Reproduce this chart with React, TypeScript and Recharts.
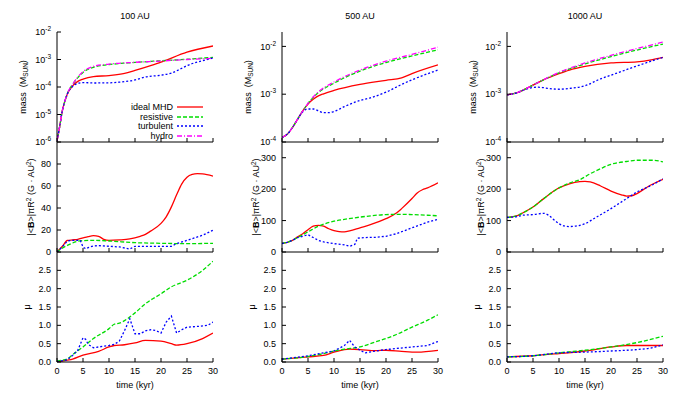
import React from "react";
import { LineChart, Line, XAxis, YAxis } from "recharts";

type Pt = [number, number];

// time (kyr) -> value
const timeTicks = [0, 5, 10, 15, 20, 25, 30];
const columnTitles = ["100 AU", "500 AU", "1000 AU"];
const legendNames = ["ideal MHD", "resistive", "turbulent", "hydro"];

// mass (M_SUN)
const mass100Ideal: Pt[] = [[0, 1.1e-6], [0.5, 3.5e-6], [1, 1.3e-5], [1.5, 3e-5], [2, 5.6e-5], [3, 1.1e-4], [4, 1.6e-4], [5, 1.95e-4], [7, 2.4e-4], [10, 2.6e-4], [13, 3.1e-4], [15, 4e-4], [18, 6e-4], [20, 8e-4], [25, 1.85e-3], [30, 3.1e-3]];
const mass100Resistive: Pt[] = [[0, 1.1e-6], [0.5, 3.5e-6], [1, 1.3e-5], [1.5, 3e-5], [2, 5.8e-5], [3, 1.25e-4], [4, 2.2e-4], [5, 3.4e-4], [7, 5.2e-4], [10, 6.5e-4], [15, 7.8e-4], [20, 9e-4], [25, 1.02e-3], [30, 1.2e-3]];
const mass100Turbulent: Pt[] = [[0, 1.1e-6], [0.5, 3.5e-6], [1, 1.3e-5], [1.5, 3e-5], [2, 5.6e-5], [3, 1.05e-4], [4, 1.35e-4], [5, 1.45e-4], [7, 1.4e-4], [10, 1.42e-4], [12, 1.5e-4], [15, 1.8e-4], [17, 2.3e-4], [20, 2.7e-4], [22, 3.2e-4], [24, 4.8e-4], [25, 6e-4], [28, 9e-4], [30, 1.12e-3]];
const mass100Hydro: Pt[] = [[0, 1.1e-6], [0.5, 3.5e-6], [1, 1.3e-5], [1.5, 3e-5], [2, 5.8e-5], [3, 1.25e-4], [4, 2.3e-4], [5, 3.6e-4], [7, 5.6e-4], [10, 6.8e-4], [15, 7.9e-4], [20, 8.8e-4], [25, 1e-3], [30, 1.1e-3]];

const mass500Ideal: Pt[] = [[0, 1.25e-4], [1, 1.45e-4], [2, 2e-4], [3, 3e-4], [4, 4.5e-4], [5, 6.2e-4], [6, 7.8e-4], [7, 9.2e-4], [8, 1.02e-3], [10, 1.2e-3], [15, 1.6e-3], [20, 1.95e-3], [23, 2.2e-3], [25, 2.7e-3], [30, 4.1e-3]];
const mass500Resistive: Pt[] = [[0, 1.25e-4], [1, 1.45e-4], [2, 2e-4], [3, 3e-4], [4, 4.5e-4], [5, 6.4e-4], [6, 8.6e-4], [7, 1.08e-3], [10, 1.7e-3], [15, 3.05e-3], [20, 4.6e-3], [25, 6.3e-3], [30, 8.5e-3]];
const mass500Turbulent: Pt[] = [[0, 1.25e-4], [1, 1.45e-4], [2, 2e-4], [3, 3e-4], [4, 4.3e-4], [5, 4.9e-4], [6, 4.9e-4], [7, 4.5e-4], [8, 4.1e-4], [9, 4.1e-4], [10, 4.35e-4], [12, 5.5e-4], [15, 7.4e-4], [17, 8.4e-4], [20, 1.1e-3], [23, 1.6e-3], [25, 2e-3], [30, 3.2e-3]];
const mass500Hydro: Pt[] = [[0, 1.25e-4], [1, 1.45e-4], [2, 2e-4], [3, 3e-4], [4, 4.5e-4], [5, 6.4e-4], [6, 8.8e-4], [7, 1.12e-3], [10, 1.8e-3], [15, 3.2e-3], [20, 4.9e-3], [25, 6.8e-3], [30, 9.6e-3]];

const mass1000Ideal: Pt[] = [[0, 9.7e-4], [2, 1.08e-3], [3, 1.2e-3], [5, 1.55e-3], [7, 2e-3], [10, 2.7e-3], [12, 3.2e-3], [15, 3.8e-3], [20, 4.5e-3], [25, 4.75e-3], [28, 5.3e-3], [30, 5.9e-3]];
const mass1000Resistive: Pt[] = [[0, 9.7e-4], [2, 1.08e-3], [3, 1.2e-3], [5, 1.55e-3], [7, 2e-3], [10, 2.8e-3], [15, 4.3e-3], [20, 6.1e-3], [25, 8.4e-3], [30, 1.12e-2]];
const mass1000Turbulent: Pt[] = [[0, 9.7e-4], [2, 1.08e-3], [3, 1.2e-3], [5, 1.38e-3], [6, 1.4e-3], [7, 1.37e-3], [8, 1.32e-3], [10, 1.27e-3], [12, 1.32e-3], [15, 1.5e-3], [18, 2.1e-3], [20, 2.5e-3], [25, 3.9e-3], [30, 5.9e-3]];
const mass1000Hydro: Pt[] = [[0, 9.7e-4], [2, 1.08e-3], [3, 1.2e-3], [5, 1.55e-3], [7, 2e-3], [10, 2.85e-3], [15, 4.5e-3], [20, 6.5e-3], [25, 9e-3], [30, 1.23e-2]];

// |<B>| pi R^2 (G AU^2)
const field100Ideal: Pt[] = [[0, 0], [1, 5], [2, 10.5], [3, 11], [4, 11.5], [5, 12.8], [6, 14], [7, 14.9], [8, 14.3], [9, 11.5], [10, 10.6], [12, 11], [14, 11.9], [16, 14.3], [17, 16], [18, 19], [20, 26], [21, 32], [22, 41], [23, 52], [24, 62], [25, 68], [26, 70.5], [27, 71.2], [28, 71], [30, 69]];
const field100Resistive: Pt[] = [[0, 0], [1, 3.5], [2, 6], [3, 8.2], [4, 9.7], [5, 10.3], [7, 10.6], [10, 10], [15, 8.5], [20, 7.9], [25, 7.6], [30, 7.9]];
const field100Turbulent: Pt[] = [[0, 0], [1, 4.6], [2, 10], [3, 10.6], [4, 10.6], [4.5, 10.4], [5, 4.5], [5.5, 3], [6, 4], [7, 5.5], [8, 5.8], [10, 5.2], [12, 4.6], [14, 2.7], [15, 5.2], [17, 5.2], [20, 5.2], [22, 5.2], [23, 7.6], [25, 10.6], [28, 15.2], [30, 19.8]];

const field500Ideal: Pt[] = [[0, 27.6], [1, 31], [2, 37], [3, 48], [4, 58], [5, 71], [6, 82], [7, 85], [8, 82], [9, 74], [10, 68], [11, 65], [12, 64], [13, 67], [15, 77], [17, 87], [20, 106], [22, 124], [23, 138], [25, 170], [26, 188], [27, 198], [28, 204], [30, 220]];
const field500Resistive: Pt[] = [[0, 27.6], [1, 31], [2, 37], [3, 46], [4, 55], [5, 64], [7, 82], [10, 98], [12, 104], [15, 111], [20, 119], [23, 120], [25, 119], [28, 117], [30, 115]];
const field500Turbulent: Pt[] = [[0, 27], [1, 31], [2, 37], [3, 46], [4, 50], [5, 55], [6, 46], [7, 37], [8, 32], [10, 26.5], [12, 23], [13, 18], [14, 24], [14.5, 44], [16, 46], [18, 47], [20, 50], [22, 58], [25, 77], [28, 95], [30, 104]];

const field1000Ideal: Pt[] = [[0, 110], [2, 116], [3, 124], [5, 143], [7, 169], [9, 194], [10, 204], [12, 217], [14, 224], [15, 225], [16, 223], [18, 210], [20, 194], [22, 182], [23, 178], [24, 179], [25, 186], [27, 207], [30, 231]];
const field1000Resistive: Pt[] = [[0, 110], [2, 116], [3, 124], [5, 143], [7, 169], [10, 204], [12, 219], [14, 230], [16, 249], [18, 265], [20, 279], [23, 288], [25, 292], [28, 292], [30, 287]];
const field1000Turbulent: Pt[] = [[0, 110], [2, 113], [3, 117], [5, 119], [7, 123], [8, 117], [9, 103], [10, 90], [11, 83], [12, 81], [13, 82], [14, 85], [15, 90], [17, 109], [20, 138], [23, 170], [25, 191], [28, 214], [30, 233]];

// mu
const mu100Ideal: Pt[] = [[0, 0], [2, 0.05], [3, 0.08], [5, 0.19], [8, 0.29], [10, 0.41], [11, 0.45], [13, 0.47], [15, 0.52], [17, 0.59], [20, 0.57], [22, 0.5], [23, 0.46], [25, 0.5], [28, 0.64], [30, 0.79]];
const mu100Resistive: Pt[] = [[0, 0.02], [1, 0.05], [2, 0.09], [3, 0.2], [5, 0.41], [7, 0.64], [10, 0.91], [11, 1.03], [12, 1.06], [15, 1.34], [17, 1.59], [20, 1.86], [22, 2.05], [25, 2.23], [28, 2.5], [30, 2.75]];
const mu100Turbulent: Pt[] = [[0, 0.01], [2, 0.06], [3, 0.18], [4, 0.32], [5, 0.66], [5.5, 0.62], [6, 0.48], [7, 0.39], [8, 0.41], [10, 0.45], [11, 0.48], [12, 0.57], [13, 0.86], [14, 1.18], [15, 0.77], [16, 0.77], [17, 0.85], [18, 0.88], [19, 0.86], [20, 0.79], [21, 1.09], [22, 1.25], [23, 0.79], [24, 0.88], [25, 0.95], [27, 0.97], [29, 1.0], [30, 1.09]];

const mu500Ideal: Pt[] = [[0, 0.08], [5, 0.14], [8, 0.18], [10, 0.27], [12, 0.34], [13, 0.35], [15, 0.34], [18, 0.31], [20, 0.32], [23, 0.29], [26, 0.27], [30, 0.32]];
const mu500Resistive: Pt[] = [[0, 0.08], [5, 0.15], [8, 0.23], [10, 0.3], [12, 0.35], [15, 0.41], [18, 0.55], [20, 0.64], [22, 0.75], [25, 0.95], [28, 1.14], [30, 1.29]];
const mu500Turbulent: Pt[] = [[0, 0.08], [5, 0.17], [8, 0.25], [10, 0.3], [12, 0.45], [13, 0.59], [14, 0.41], [15, 0.32], [16, 0.25], [18, 0.3], [20, 0.34], [25, 0.41], [28, 0.45], [30, 0.56]];

const mu1000Ideal: Pt[] = [[0, 0.14], [5, 0.17], [10, 0.23], [15, 0.3], [20, 0.41], [23, 0.45], [25, 0.45], [28, 0.45], [30, 0.45]];
const mu1000Resistive: Pt[] = [[0, 0.14], [5, 0.17], [10, 0.25], [15, 0.32], [20, 0.41], [25, 0.53], [30, 0.7]];
const mu1000Turbulent: Pt[] = [[0, 0.14], [5, 0.17], [10, 0.25], [15, 0.27], [20, 0.3], [25, 0.34], [28, 0.39], [30, 0.47]];

const FONT = '"Liberation Sans", Arial, Helvetica, sans-serif';

const LINE_STYLES = [
  { stroke: "#ff0000", dash: undefined as string | undefined },
  { stroke: "#00dd00", dash: "4 2" },
  { stroke: "#0000ff", dash: "2 2" },
  { stroke: "#ff00ff", dash: "5 2 1 2" },
];

const PLOT_W = 156;
const PLOT_H = 110;
const M = { top: 6, right: 6, left: 5, bottom: 4 };
const YW = 40;
const XH = 20;
const colLeft = [57, 282, 507];
const rowTop = [32, 142, 252];

type Series = { pts: Pt[]; style: number; kind?: "linear" | "monotone" };

const Empty = () => <g />;

const BottomTick = (p: any) => (
  <text x={p.x} y={p.y} dy="0.71em" textAnchor="middle" fontSize={9} fill="#000">
    {p.payload.value}
  </text>
);

const makeLeftTick = (fmt: (v: number) => string, log: boolean) => (p: any) => {
  const v = p.payload.value;
  if (log) {
    const e = Math.round(Math.log10(v));
    return (
      <text x={p.x} y={p.y} dy="0.35em" textAnchor="end" fontSize={9} fill="#000">
        <tspan>10</tspan>
        <tspan dy={-4} fontSize={6.5}>{String(e)}</tspan>
      </text>
    );
  }
  return (
    <text x={p.x} y={p.y} dy="0.35em" textAnchor="end" fontSize={9} fill="#000">
      {fmt(v)}
    </text>
  );
};

function Panel(props: {
  col: number;
  row: number;
  series: Series[];
  domain: [number, number];
  ticks: number[];
  log?: boolean;
  fmt?: (v: number) => string;
  xLabels?: boolean;
}) {
  const { col, row, series, domain, ticks, log = false, fmt = (v) => String(v), xLabels = false } = props;
  const scale = log ? "log" : "auto";
  return (
    <div style={{ position: "absolute", left: colLeft[col] - M.left - YW, top: rowTop[row] - M.top }}>
      <LineChart width={M.left + YW + PLOT_W + M.right} height={M.top + PLOT_H + XH + M.bottom} margin={M}>
        <XAxis
          xAxisId="b"
          dataKey="t"
          type="number"
          domain={[0, 30]}
          ticks={timeTicks}
          interval={0}
          allowDataOverflow
          height={XH}
          stroke="#000"
          tickSize={-4}
          tickMargin={10}
          tick={xLabels ? BottomTick : Empty}
        />
        <XAxis
          xAxisId="top"
          orientation="top"
          dataKey="t"
          type="number"
          domain={[0, 30]}
          ticks={timeTicks}
          interval={0}
          allowDataOverflow
          height={0}
          stroke="#000"
          tickSize={-4}
          tick={Empty}
        />
        <YAxis
          yAxisId="l"
          type="number"
          scale={scale}
          domain={domain}
          ticks={ticks}
          interval={0}
          allowDataOverflow
          width={YW}
          stroke="#000"
          tickSize={-4}
          tickMargin={10}
          tick={makeLeftTick(fmt, log)}
        />
        <YAxis
          yAxisId="r"
          orientation="right"
          type="number"
          scale={scale}
          domain={domain}
          ticks={ticks}
          interval={0}
          allowDataOverflow
          width={0}
          stroke="#000"
          tickSize={-4}
          tick={Empty}
        />
        {series.map((s, i) => (
          <Line
            key={i}
            xAxisId="b"
            yAxisId="l"
            data={s.pts.map(([t, v]) => ({ t, v }))}
            dataKey="v"
            type={s.kind ?? "monotone"}
            stroke={LINE_STYLES[s.style].stroke}
            strokeDasharray={LINE_STYLES[s.style].dash}
            strokeWidth={1.3}
            dot={false}
            isAnimationActive={false}
          />
        ))}
      </LineChart>
    </div>
  );
}

const abs = (x: number, y: number, rotate = false): React.CSSProperties => ({
  position: "absolute",
  left: x,
  top: y,
  transform: rotate ? "translate(-50%, -50%) rotate(-90deg)" : "translate(-50%, -50%)",
  whiteSpace: "nowrap",
  fontSize: 9,
  lineHeight: "11px",
});

const MassLabel = () => (
  <span>
    mass&nbsp; (M<span style={{ fontSize: 6.5, position: "relative", top: 2 }}>SUN</span>)
  </span>
);

const FieldLabel = () => (
  <span>
    |&lt;<b>B</b>&gt;|πR<span style={{ fontSize: 6.5, position: "relative", top: -3 }}>2</span> (G · AU
    <span style={{ fontSize: 6.5, position: "relative", top: -3 }}>2</span>)
  </span>
);

function LegendBox() {
  const rows = [107, 117, 126, 136];
  return (
    <svg style={{ position: "absolute", left: 0, top: 0 }} width={675} height={394}>
      {legendNames.map((name, i) => (
        <g key={name}>
          <text x={173} y={rows[i]} dy="0.35em" textAnchor="end" fontSize={9} fill="#000">
            {name}
          </text>
          <line
            x1={177}
            x2={203}
            y1={rows[i]}
            y2={rows[i]}
            stroke={LINE_STYLES[i].stroke}
            strokeDasharray={LINE_STYLES[i].dash}
            strokeWidth={1.3}
          />
        </g>
      ))}
    </svg>
  );
}

export default function App() {
  const massLog = { log: true };
  const fieldTicksBig = [0, 100, 200, 300];
  const muTicks = [0, 0.5, 1, 1.5, 2, 2.5];
  const muFmt = (v: number) => v.toFixed(1);
  return (
    <div
      style={{
        position: "absolute",
        left: 0,
        top: 0,
        width: 675,
        height: 394,
        background: "#fff",
        fontFamily: FONT,
        color: "#000",
        overflow: "hidden",
      }}
    >
      <Panel col={0} row={0} {...massLog} domain={[1e-6, 1e-2]} ticks={[1e-6, 1e-5, 1e-4, 1e-3, 1e-2]}
        series={[{ pts: mass100Ideal, style: 0 }, { pts: mass100Resistive, style: 1 }, { pts: mass100Turbulent, style: 2 }, { pts: mass100Hydro, style: 3 }]} />
      <Panel col={1} row={0} {...massLog} domain={[1e-4, 2e-2]} ticks={[1e-4, 1e-3, 1e-2]}
        series={[{ pts: mass500Ideal, style: 0 }, { pts: mass500Resistive, style: 1 }, { pts: mass500Turbulent, style: 2 }, { pts: mass500Hydro, style: 3 }]} />
      <Panel col={2} row={0} {...massLog} domain={[1e-4, 2e-2]} ticks={[1e-4, 1e-3, 1e-2]}
        series={[{ pts: mass1000Ideal, style: 0 }, { pts: mass1000Resistive, style: 1 }, { pts: mass1000Turbulent, style: 2 }, { pts: mass1000Hydro, style: 3 }]} />

      <Panel col={0} row={1} domain={[0, 100]} ticks={[0, 20, 40, 60, 80]}
        series={[{ pts: field100Ideal, style: 0 }, { pts: field100Resistive, style: 1 }, { pts: field100Turbulent, style: 2, kind: "linear" }]} />
      <Panel col={1} row={1} domain={[0, 350]} ticks={fieldTicksBig}
        series={[{ pts: field500Ideal, style: 0 }, { pts: field500Resistive, style: 1 }, { pts: field500Turbulent, style: 2, kind: "linear" }]} />
      <Panel col={2} row={1} domain={[0, 350]} ticks={fieldTicksBig}
        series={[{ pts: field1000Ideal, style: 0 }, { pts: field1000Resistive, style: 1 }, { pts: field1000Turbulent, style: 2 }]} />

      <Panel col={0} row={2} domain={[0, 3]} ticks={muTicks} fmt={muFmt} xLabels
        series={[{ pts: mu100Ideal, style: 0 }, { pts: mu100Resistive, style: 1 }, { pts: mu100Turbulent, style: 2, kind: "linear" }]} />
      <Panel col={1} row={2} domain={[0, 3]} ticks={muTicks} fmt={muFmt} xLabels
        series={[{ pts: mu500Ideal, style: 0 }, { pts: mu500Resistive, style: 1 }, { pts: mu500Turbulent, style: 2, kind: "linear" }]} />
      <Panel col={2} row={2} domain={[0, 3]} ticks={muTicks} fmt={muFmt} xLabels
        series={[{ pts: mu1000Ideal, style: 0 }, { pts: mu1000Resistive, style: 1 }, { pts: mu1000Turbulent, style: 2 }]} />

      <LegendBox />

      {columnTitles.map((title, c) => (
        <div key={title} style={abs(colLeft[c] + PLOT_W / 2, 16)}>{title}</div>
      ))}
      {columnTitles.map((title, c) => (
        <div key={"x" + title} style={abs(colLeft[c] + PLOT_W / 2, 385)}>time (kyr)</div>
      ))}
      {colLeft.map((x, c) => (
        <React.Fragment key={"y" + c}>
          <div style={abs(x - 34, 87, true)}><MassLabel /></div>
          <div style={abs(x - 26, 197, true)}><FieldLabel /></div>
          <div style={abs(x - 30, 307, true)}>μ</div>
        </React.Fragment>
      ))}
    </div>
  );
}
